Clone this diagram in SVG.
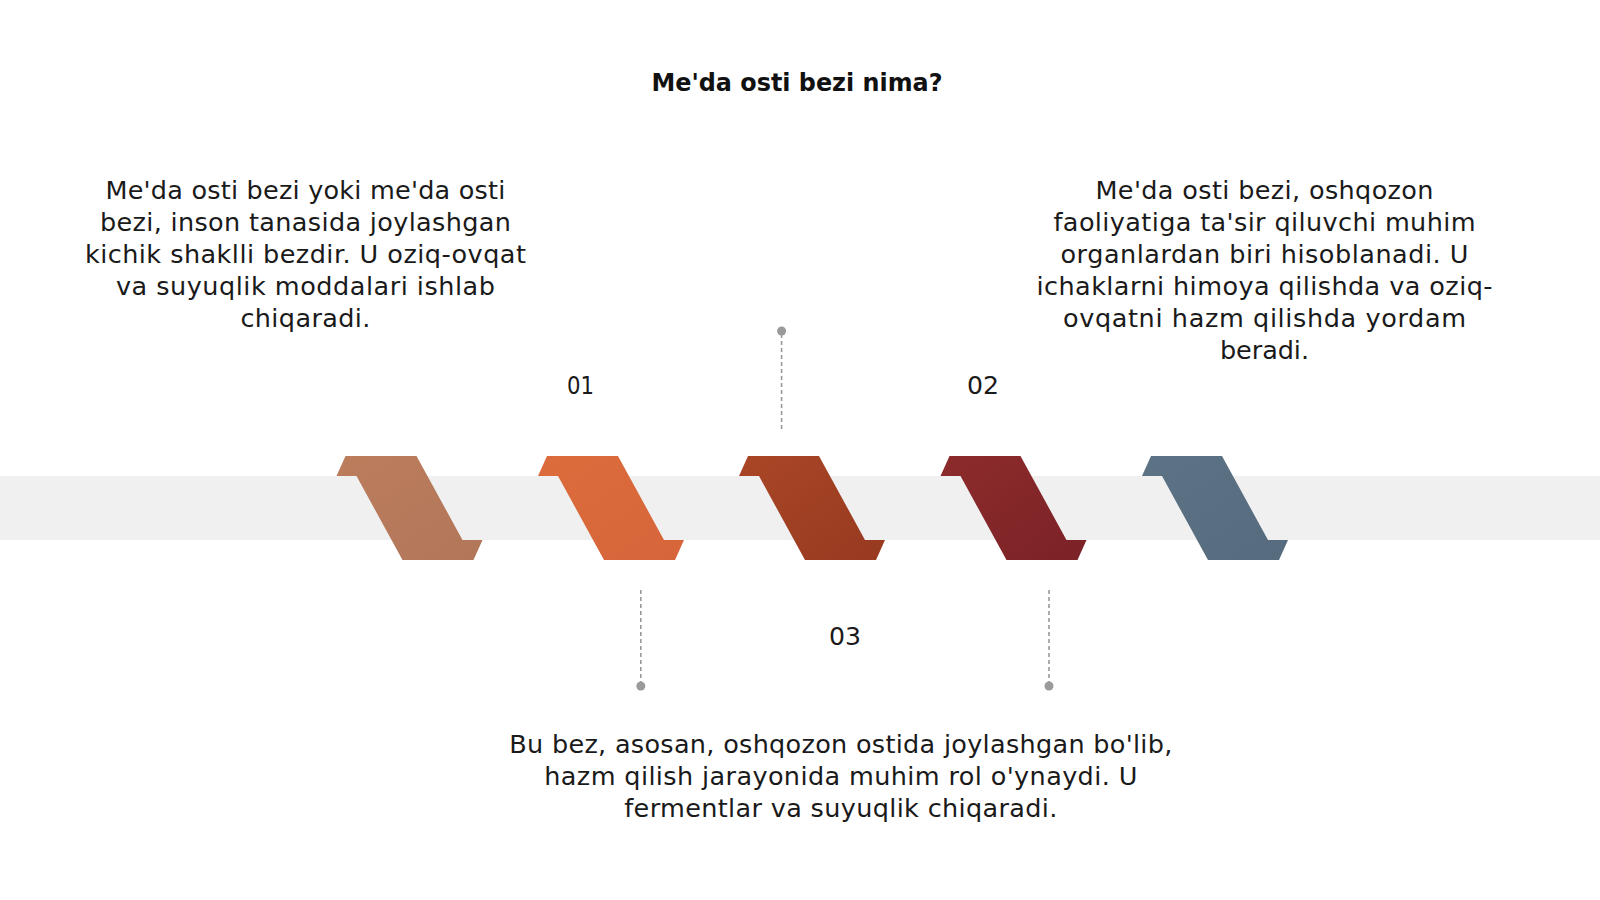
<svg xmlns="http://www.w3.org/2000/svg" width="1600" height="900" viewBox="0 0 1600 900">
  <defs>
    <style>
      .t { font-family: "DejaVu Sans", "Liberation Sans", sans-serif; font-size: 25.5px; fill: #1a1a1a; text-anchor: middle; }
      .num { font-family: "DejaVu Sans", "Liberation Sans", sans-serif; font-size: 25.5px; fill: #1a1a1a; text-anchor: middle; }
      .title { font-family: "DejaVu Sans", "Liberation Sans", sans-serif; font-size: 25px; font-weight: bold; fill: #111; text-anchor: middle; }
      .dash { stroke: #9a9a9a; stroke-width: 1.6; stroke-dasharray: 4 3; fill: none; }
      .dot { fill: #9a9a9a; }
    </style>
    <path id="rib" d="M0,0 L71,0 L117,84 L137,84 L128,104 L57,104 L11,20 L-9,20 Z"/>
    <linearGradient id="g1" x1="0" y1="0" x2="1" y2="1"><stop offset="0" stop-color="#bb7d5c"/><stop offset="1" stop-color="#b2765a"/></linearGradient>
    <linearGradient id="g2" x1="0" y1="0" x2="1" y2="1"><stop offset="0" stop-color="#dc6c3c"/><stop offset="1" stop-color="#d6663a"/></linearGradient>
    <linearGradient id="g3" x1="0" y1="0" x2="1" y2="1"><stop offset="0" stop-color="#a94626"/><stop offset="1" stop-color="#973a20"/></linearGradient>
    <linearGradient id="g4" x1="0" y1="0" x2="1" y2="1"><stop offset="0" stop-color="#8d2b2b"/><stop offset="1" stop-color="#7b2227"/></linearGradient>
    <linearGradient id="g5" x1="0" y1="0" x2="1" y2="1"><stop offset="0" stop-color="#5c7285"/><stop offset="1" stop-color="#566c7e"/></linearGradient>
  </defs>
  <rect width="1600" height="900" fill="#ffffff"/>

  <g id="title">
    <text class="title" x="797" y="91" textLength="291" lengthAdjust="spacingAndGlyphs">Me'da osti bezi nima?</text>
  </g>

  <g id="band">
    <rect x="0" y="476" width="1600" height="64" fill="#f0f0f0"/>
  </g>

  <g id="step1"><use href="#rib" x="345.5" y="456" fill="url(#g1)"/></g>
  <g id="step2"><use href="#rib" x="547" y="456" fill="url(#g2)"/></g>
  <g id="step3"><use href="#rib" x="748" y="456" fill="url(#g3)"/></g>
  <g id="step4"><use href="#rib" x="949.5" y="456" fill="url(#g4)"/></g>
  <g id="step5"><use href="#rib" x="1151" y="456" fill="url(#g5)"/></g>

  <g id="connectors">
    <line class="dash" x1="781.6" y1="334" x2="781.6" y2="429"/>
    <circle class="dot" cx="781.6" cy="331" r="4.5"/>
    <line class="dash" x1="640.8" y1="590" x2="640.8" y2="683"/>
    <circle class="dot" cx="640.8" cy="686" r="4.5"/>
    <line class="dash" x1="1049" y1="590" x2="1049" y2="683"/>
    <circle class="dot" cx="1049" cy="686" r="4.5"/>
  </g>

  <g id="label01"><text class="num" x="580.6" y="394" textLength="27" lengthAdjust="spacingAndGlyphs">01</text></g>
  <g id="label02"><text class="num" x="983" y="394" textLength="32" lengthAdjust="spacingAndGlyphs">02</text></g>
  <g id="label03"><text class="num" x="845" y="645" textLength="32" lengthAdjust="spacingAndGlyphs">03</text></g>

  <g id="text01">
    <text class="t" x="305.4" y="199" textLength="400">Me'da osti bezi yoki me'da osti</text>
    <text class="t" x="305.4" y="231" textLength="411">bezi, inson tanasida joylashgan</text>
    <text class="t" x="305.4" y="263" textLength="441">kichik shaklli bezdir. U oziq-ovqat</text>
    <text class="t" x="305.4" y="295" textLength="379">va suyuqlik moddalari ishlab</text>
    <text class="t" x="305.4" y="327" textLength="130">chiqaradi.</text>
  </g>

  <g id="text02">
    <text class="t" x="1264.5" y="199" textLength="338">Me'da osti bezi, oshqozon</text>
    <text class="t" x="1264.5" y="231" textLength="422">faoliyatiga ta'sir qiluvchi muhim</text>
    <text class="t" x="1264.5" y="263" textLength="408">organlardan biri hisoblanadi. U</text>
    <text class="t" x="1264.5" y="295" textLength="456">ichaklarni himoya qilishda va oziq-</text>
    <text class="t" x="1264.5" y="327" textLength="403">ovqatni hazm qilishda yordam</text>
    <text class="t" x="1264.5" y="359" textLength="89">beradi.</text>
  </g>

  <g id="text03">
    <text class="t" x="840.8" y="753" textLength="663">Bu bez, asosan, oshqozon ostida joylashgan bo'lib,</text>
    <text class="t" x="840.8" y="785" textLength="593">hazm qilish jarayonida muhim rol o'ynaydi. U</text>
    <text class="t" x="840.8" y="817" textLength="433">fermentlar va suyuqlik chiqaradi.</text>
  </g>
</svg>
